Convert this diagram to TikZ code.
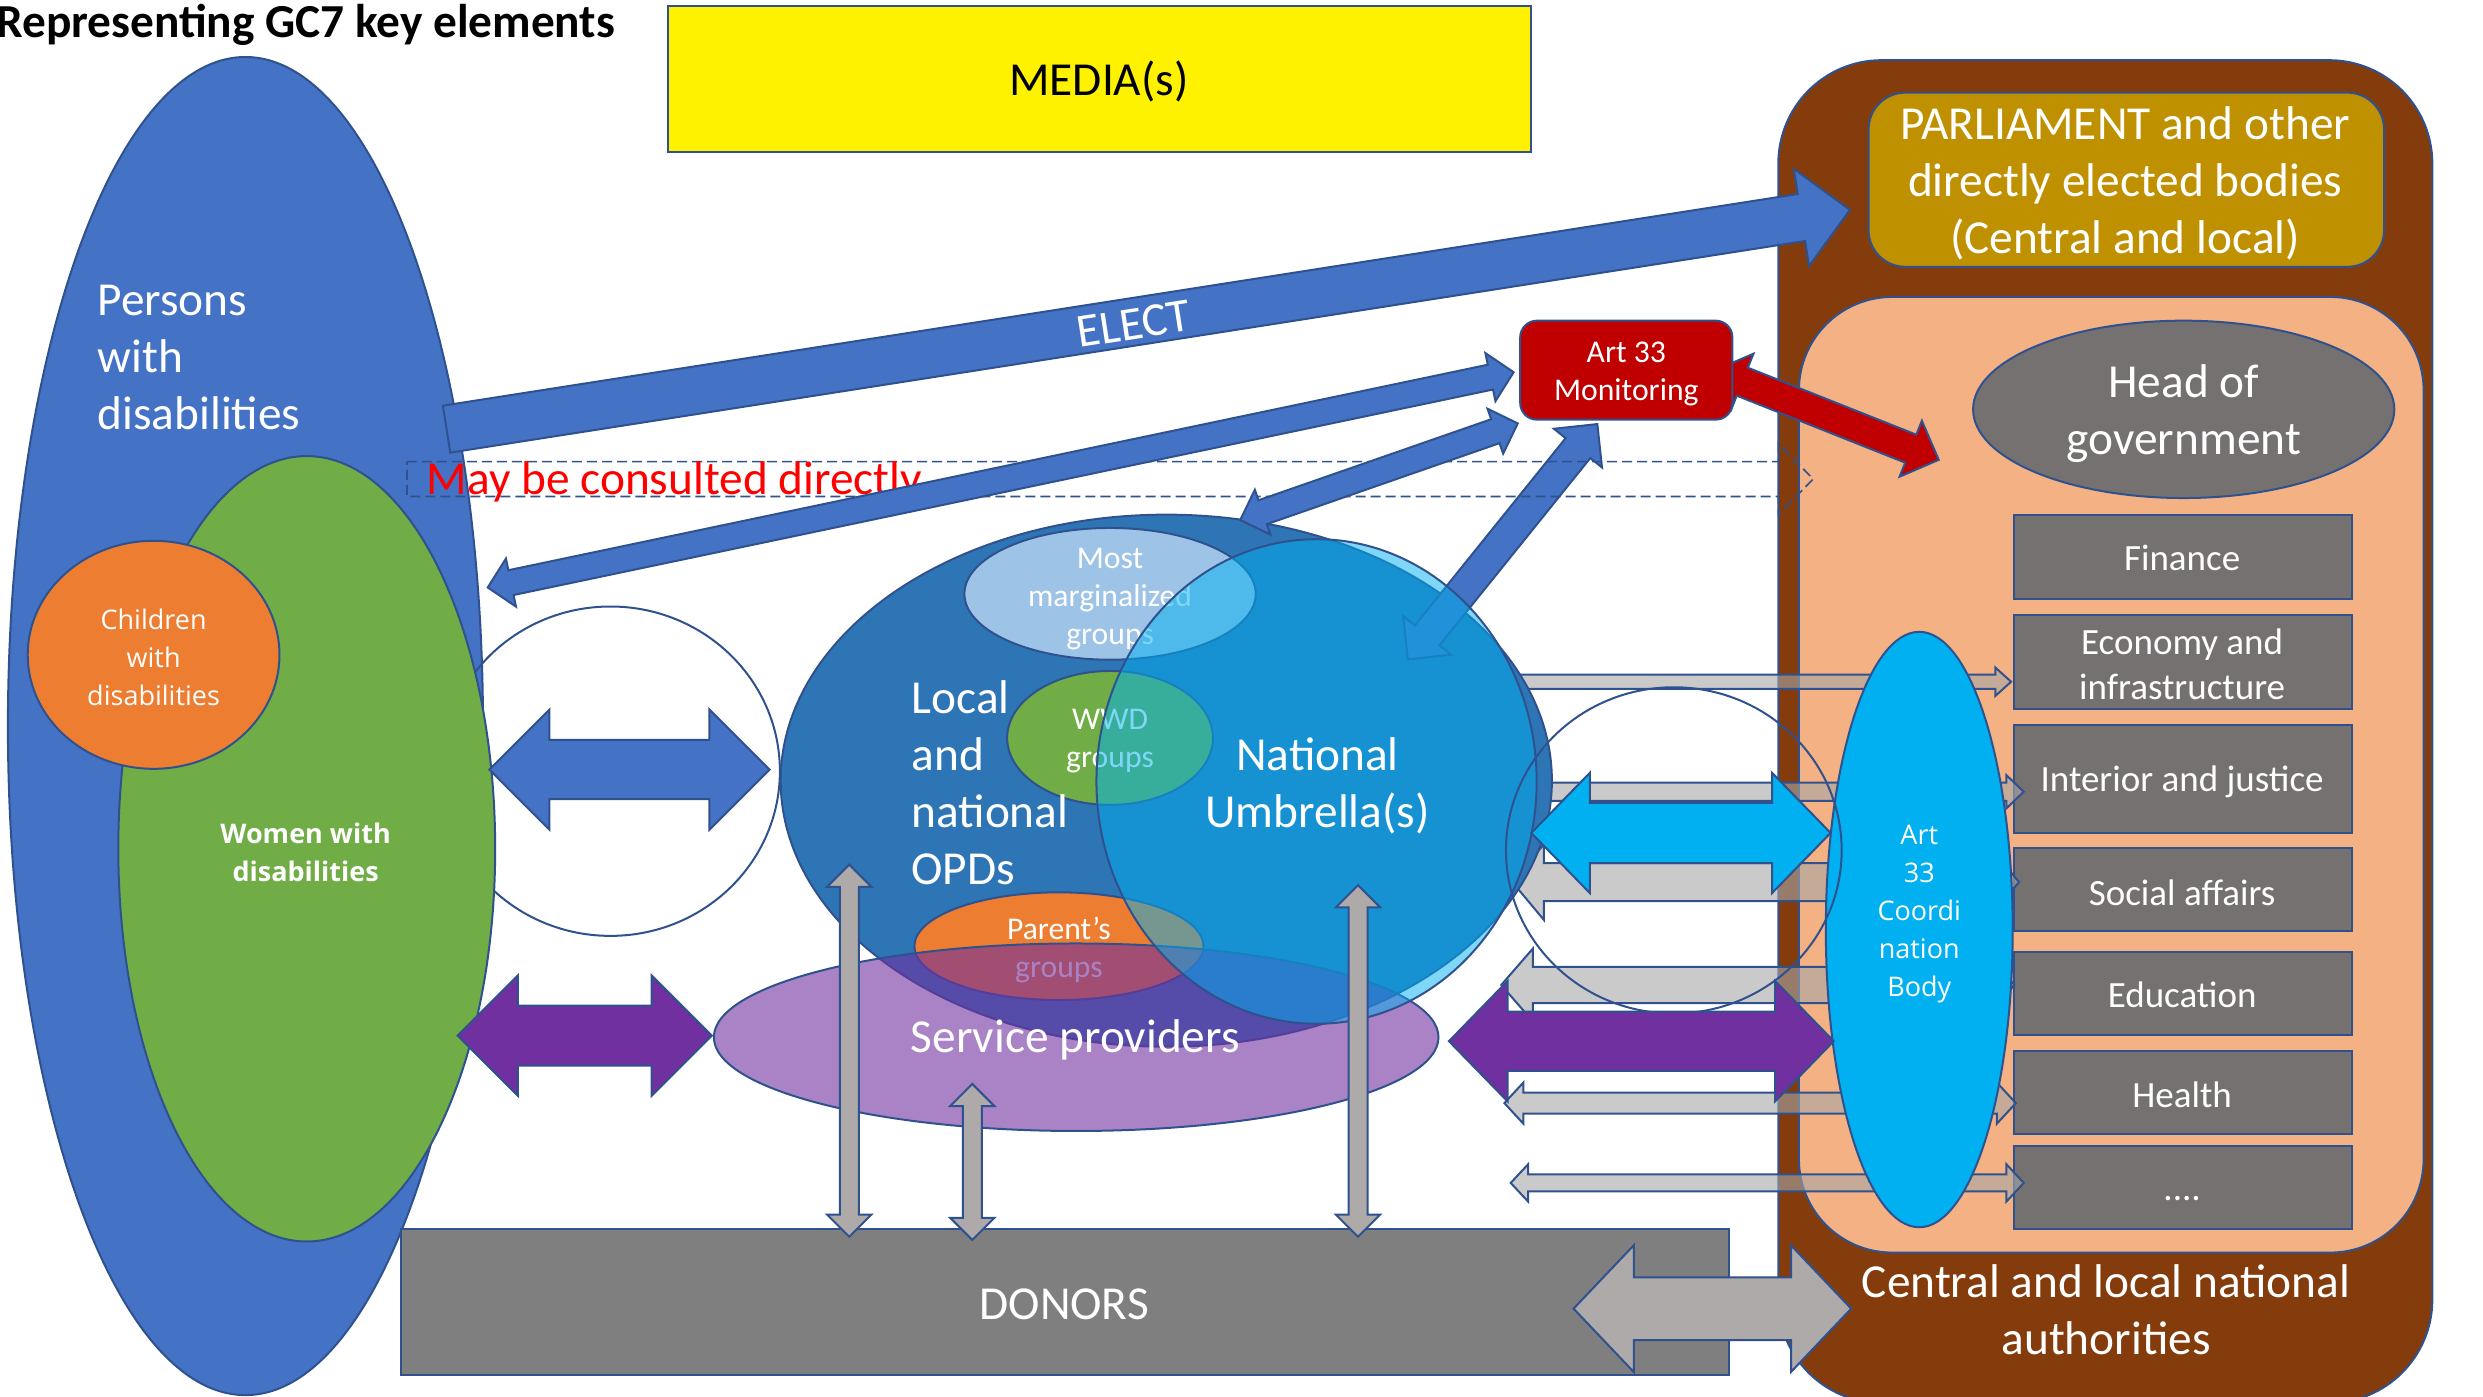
\documentclass[tikz,border=0pt]{standalone}
\usepackage{fontspec}
\setmainfont{Carlito}
\newfontfamily\segoe{Open Sans}

\definecolor{edgeblue}{HTML}{2F528F}
\definecolor{pwdblue}{HTML}{4472C4}
\definecolor{opdblue}{HTML}{2E75B6}
\definecolor{umbrella}{HTML}{00B0F0}
\definecolor{wwdgreen}{HTML}{70AD47}
\definecolor{kidorange}{HTML}{ED7D31}
\definecolor{margblue}{HTML}{9DC3E6}
\definecolor{spurple}{HTML}{7030A0}
\definecolor{authbrown}{HTML}{843C0C}
\definecolor{parlgold}{HTML}{BF9000}
\definecolor{govpeach}{HTML}{F4B183}
\definecolor{govgray}{HTML}{767171}
\definecolor{donorgray}{HTML}{7F7F7F}
\definecolor{linkgray}{HTML}{AEAAAA}
\definecolor{mingray}{HTML}{A6A6A6}
\definecolor{monred}{HTML}{C00000}

% block arrows: style, start (tip or tail centre), angle, length, shaft half, head half, head length
\newcommand{\onearrow}[7]{%
  \draw[#1, shift={(#2)}, rotate=#3] (0,-#5) -- ({#4-#7},-#5) -- ({#4-#7},-#6) -- (#4,0) -- ({#4-#7},#6) -- ({#4-#7},#5) -- (0,#5) -- cycle;}
\newcommand{\twoarrow}[7]{%
  \draw[#1, shift={(#2)}, rotate=#3] (0,0) -- (#7,-#6) -- (#7,-#5) -- ({#4-#7},-#5) -- ({#4-#7},-#6) -- (#4,0) -- ({#4-#7},#6) -- ({#4-#7},#5) -- (#7,#5) -- (#7,#6) -- cycle;}

\tikzset{every picture/.style={line width=0.6pt}}
\tikzset{
  blueedge/.style={draw=edgeblue},
  lbl/.style={text=white, inner sep=0pt, align=center},
  txtbig/.style={font=\fontsize{14.2}{17.1}\selectfont},
  txtmid/.style={font=\fontsize{11.1}{13.3}\selectfont},
  txtsmall/.style={font=\fontsize{9.5}{11.4}\selectfont},
  txtseg/.style={font=\segoe\fontsize{8.1}{11.4}\selectfont},
  txtsegbold/.style={font=\segoe\bfseries\fontsize{8.1}{11.4}\selectfont},
  ministry/.style={blueedge, fill=govgray},
  minlink/.style={blueedge, fill=mingray, fill opacity=0.6},
  donorlink/.style={blueedge, fill=linkgray},
}

\begin{document}
\begin{tikzpicture}[x=0.475pt,y=0.475pt,yscale=-1,xscale=1]
    \useasboundingbox (0,0) rectangle (1568,882);

    %Shape: Rounded Rectangle [authorities]
    \draw[blueedge, fill=authbrown, rounded corners=31pt] (1123,38) rectangle (1536,886);
    %Shape: Rounded Rectangle [parliament]
    \draw[blueedge, fill=parlgold, rounded corners=11pt] (1180,58.5) rectangle (1505.5,168.5);
    %Shape: Rounded Rectangle [government]
    \draw[blueedge, fill=govpeach, rounded corners=28pt] (1136,187.5) rectangle (1530.5,791);
    %Shape: Ellipse [head of government]
    \draw[blueedge, fill=govgray] (1379,258.5) ellipse [x radius=133, y radius=56];

    %Shape: Rectangles [ministries]
    \foreach \top/\bot in {325/378, 388.5/447.5, 458/526, 535.5/588, 601/653.5, 663.5/716, 724/776}
        \draw[ministry] (1272,\top) rectangle (1485,\bot);

    %Left-right arrows towards the ministries
    \onearrow{minlink}{950,430.5}{0}{320}{4.5}{9}{10}
    \twoarrow{minlink}{958,500}{0}{320}{5.8}{10.5}{11}
    \twoarrow{minlink}{955,557}{0}{320}{12}{24}{20}
    \twoarrow{minlink}{948,622}{0}{324}{11.5}{23}{20}
    \twoarrow{minlink}{950,696.6}{0}{323}{6.6}{13}{12}
    \twoarrow{minlink}{954,747}{0}{324}{5.4}{11.8}{11}

    %Shape: Ellipse [coordination body]
    \draw[blueedge, fill=umbrella] (1212,587) ellipse [x radius=59, y radius=188];

    %Shape: Ellipse [persons with disabilities]
    \draw[blueedge, fill=pwdblue] (155,458.5) ellipse [x radius=150, y radius=422.5];
    %Shape: Circle [left link]
    \draw[blueedge] (385.5,487) ellipse [x radius=107, y radius=104];
    %Shape: Ellipse [women]
    \draw[blueedge, fill=wwdgreen] (193.7,536) ellipse [x radius=119, y radius=248];
    %Shape: Ellipse [children]
    \draw[blueedge, fill=kidorange] (97,413.5) ellipse [x radius=79.5, y radius=72];

    %Shape: Ellipse [OPDs]
    \draw[blueedge, fill=opdblue] (736.5,493) ellipse [x radius=243.5, y radius=168];
    %Shape: Ellipse [most marginalized]
    \draw[blueedge, fill=margblue] (701,375) ellipse [x radius=92, y radius=41.6];
    %Shape: Ellipse [WWD]
    \draw[blueedge, fill=wwdgreen] (701,466) ellipse [x radius=65, y radius=42.3];
    %Shape: Ellipse [parents]
    \draw[blueedge, fill=kidorange] (668.7,597.5) ellipse [x radius=91.3, y radius=34];

    % Text Node
    \node (marglbl) [lbl, txtsmall] at (701,378) {Most\\marginalized\\groups};
    % Text Node
    \node (wwdlbl) [lbl, txtsmall] at (701,468) {WWD\\groups};
    % Text Node
    \node (parentlbl) [lbl, txtsmall] at (668.7,600) {Parent’s\\groups};

    %Shape: Ellipse [service providers]
    \draw[blueedge, fill=spurple, fill opacity=0.6] (679.6,655) ellipse [x radius=228.8, y radius=59.2];

    %Arrow: monitoring <-> umbrella
    \twoarrow{blueedge, fill=pwdblue}{1008.7,267.8}{128.85}{190.8}{10}{19.5}{19.5}

    %Shape: Ellipse [national umbrella]
    \draw[blueedge, fill=umbrella, fill opacity=0.5] (831.4,493.5) ellipse [x radius=139, y radius=153];

    % Text Node
    \node (opdlbl) [lbl, txtbig, anchor=west, align=left] at (575,494) {Local\\and\\national\\OPDs};
    % Text Node
    \node (natlbl) [lbl, txtbig] at (832,496) {National\\Umbrella(s)};
    % Text Node
    \node (splbl) [lbl, txtbig] at (679,656.5) {Service providers};

    %Shape: Circle [right link]
    \draw[blueedge] (1057,537) ellipse [x radius=106, y radius=103];

    %Double arrows
    \twoarrow{blueedge, fill=pwdblue}{309,486}{0}{177}{18.7}{38}{38}
    \twoarrow{blueedge, fill=spurple}{289,654}{0}{160.5}{19}{38}{38}
    \twoarrow{blueedge, fill=umbrella}{967,526}{0}{189}{19}{38}{37}
    \twoarrow{blueedge, fill=spurple}{915,657.5}{0}{243}{18.7}{38}{37}

    %Shape: Rectangle [donors]
    \draw[blueedge, fill=donorgray] (253,776) rectangle (1091.6,868.5);
    % Text Node
    \node (donorlbl) [lbl, txtbig] at (672,823.5) {DONORS};

    %Arrows to the donors
    \twoarrow{donorlink}{536.3,546}{90}{235}{6}{14}{14}
    \twoarrow{donorlink}{614,684.5}{90}{98.5}{6}{14}{14}
    \twoarrow{donorlink}{857.6,559}{90}{222}{6}{14}{14}
    \twoarrow{donorlink}{993.7,826.4}{0}{175.3}{19.8}{40}{38}

    %Shape: dashed arrow [consulted]
    \draw[blueedge, dash pattern=on 3pt off 1.5pt, line width=0.5pt] (257,291.5) -- (1123,291.5) -- (1123,280) -- (1145,302.5) -- (1123,325) -- (1123,313.5) -- (257,313.5) -- cycle;
    % Text Node
    \node (consultlbl) [anchor=west, inner sep=0pt, text=red, txtbig] at (269,304.5) {May be consulted directly};

    %Arrow: ELECT
    \onearrow{blueedge, fill=pwdblue}{282,271}{-8.88}{897}{15}{31}{31}
    % Text Node
    \node (electlbl) [lbl, txtbig, rotate=8.88] at (716,204.5) {ELECT};

    %Arrows to monitoring
    \twoarrow{blueedge, fill=pwdblue}{308,371}{-11.85}{662}{8}{15.5}{15}
    \twoarrow{blueedge, fill=pwdblue}{783.2,328.4}{-19.2}{185.6}{8}{15}{15}
    \twoarrow{blueedge, fill=monred}{1082.6,234}{21.7}{152.5}{9.5}{19}{19}

    %Shape: Rounded Rectangle [monitoring]
    \draw[blueedge, fill=monred, rounded corners=5pt] (960,202.5) rectangle (1094,265);
    % Text Node
    \node (monlbl) [lbl, txtsmall] at (1027,236) {Art 33\\Monitoring};

    %Shape: Rectangle [media]
    \draw[blueedge, fill=yellow] (421.7,3.5) rectangle (967,96);
    % Text Node
    \node (medialbl) [inner sep=0pt, txtbig] at (694,51.5) {MEDIA(s)};

    % Text Node
    \node (title) [anchor=west, inner sep=0pt, font=\bfseries\fontsize{14.2}{17.1}\selectfont] at (-3,16) {Representing GC7 key elements};
    % Text Node
    \node (pwdlbl) [lbl, txtbig, anchor=west, align=left] at (61,225.5) {Persons\\with\\disabilities};
    % Text Node
    \node (kidlbl) [lbl, txtseg] at (97,415) {Children\\with\\disabilities};
    % Text Node
    \node (womanlbl) [lbl, txtsegbold] at (193,538) {Women with\\disabilities};
    % Text Node
    \node (parllbl) [lbl, txtbig] at (1342,116) {PARLIAMENT and other\\directly elected bodies\\(Central and local)};
    % Text Node
    \node (authlbl) [lbl, txtbig] at (1330,827) {Central and local national\\authorities};
    % Text Node
    \node (headlbl) [lbl, txtbig] at (1379,261.5) {Head of\\government};
    % Text Node
    \node (coordlbl) [lbl, txtseg] at (1212,577.5) {Art\\33\\Coordi\\nation\\Body};
    % Text Node
    \node (finlbl) [lbl, txtmid] at (1378,352.5) {Finance};
    % Text Node
    \node (ecolbl) [lbl, txtmid] at (1378,419.5) {Economy and\\infrastructure};
    % Text Node
    \node (intlbl) [lbl, txtmid] at (1378,494) {Interior and justice};
    % Text Node
    \node (soclbl) [lbl, txtmid] at (1378,563.5) {Social affairs};
    % Text Node
    \node (edulbl) [lbl, txtmid] at (1378,628.5) {Education};
    % Text Node
    \node (heallbl) [lbl, txtmid] at (1378,691.5) {Health};
    % Text Node
    \node (morelbl) [lbl, txtmid] at (1378,757) {....};

\end{tikzpicture}
\end{document}
